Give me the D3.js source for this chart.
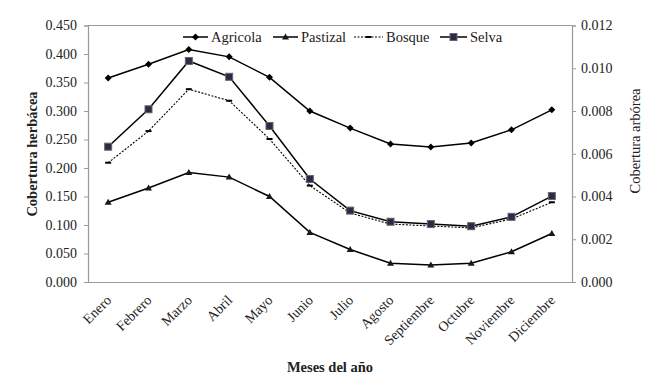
<!DOCTYPE html>
<html><head><meta charset="utf-8">
<script src="https://cdn.jsdelivr.net/npm/d3@7"></script>
<style>
body{margin:0;background:#fff;}
</style></head><body>
<svg id="c" width="658" height="382"></svg>
<script>
const months = ["Enero","Febrero","Marzo","Abril","Mayo","Junio","Julio","Agosto","Septiembre","Octubre","Noviembre","Diciembre"];
const agricola = [0.358,0.382,0.408,0.395,0.359,0.300,0.270,0.242,0.237,0.244,0.267,0.302];
const pastizal = [0.140,0.165,0.192,0.184,0.150,0.087,0.057,0.033,0.030,0.033,0.053,0.085];
const bosque = [0.00558,0.00706,0.00902,0.00848,0.00669,0.00451,0.00323,0.00271,0.00262,0.00253,0.00295,0.00373];
const selva = [0.00633,0.00808,0.01034,0.00960,0.00730,0.00482,0.00334,0.00282,0.00271,0.00261,0.00305,0.00402];
const leftTicks = [0,0.05,0.1,0.15,0.2,0.25,0.3,0.35,0.4,0.45];
const rightTicks = [0,0.002,0.004,0.006,0.008,0.010,0.012];

const FONT = "'Liberation Serif', 'Times New Roman', serif";
const svg = d3.select("#c");
const L=88, R=572, T=25.5, B=282;
const x = d3.scaleBand().domain(months).range([L,R]);
const yL = d3.scaleLinear().domain([0,0.45]).range([B,T]);
const yR = d3.scaleLinear().domain([0,0.012]).range([B,T]);
const cx = m => x(m)+x.bandwidth()/2;
const axisCol="#9a9a9a";

const gl = svg.append("g").attr("transform",`translate(${L},0)`)
  .call(d3.axisLeft(yL).tickValues(leftTicks).tickFormat(d3.format(".3f")).tickSize(4).tickPadding(7));
const gr = svg.append("g").attr("transform",`translate(${R},0)`)
  .call(d3.axisRight(yR).tickValues(rightTicks).tickFormat(d3.format(".3f")).tickSize(4).tickPadding(5));
const gx = svg.append("g").attr("transform",`translate(0,${B})`)
  .call(d3.axisBottom(x).tickSize(0).tickPadding(0));
[gl,gr,gx].forEach(g=>{
  g.attr("font-family",null).attr("font-size",null);
  g.select(".domain").attr("stroke",axisCol).attr("stroke-width",1.2);
  g.selectAll(".tick line").attr("stroke",axisCol);
  g.selectAll("text").style("font-family",FONT).style("font-size","14px").attr("fill","#222");
});
gx.selectAll(".tick text").attr("text-anchor","end").attr("dy",null)
  .attr("transform","translate(4,19) rotate(-45)");
svg.append("line").attr("x1",L).attr("x2",R).attr("y1",T).attr("y2",T).attr("stroke",axisCol).attr("stroke-width",1.2);

function txt(){ return svg.append("text").style("font-family",FONT).attr("fill","#222"); }
txt().attr("transform","translate(37,154) rotate(-90)").attr("text-anchor","middle")
  .style("font-size","14.5px").style("font-weight","bold").text("Cobertura herbácea");
txt().attr("transform","translate(640,141) rotate(-90)").attr("text-anchor","middle")
  .style("font-size","14.5px").text("Cobertura arbórea");
txt().attr("x",330).attr("y",372).attr("text-anchor","middle")
  .style("font-size","14.5px").style("font-weight","bold").text("Meses del año");

function drawSeries(vals, y, opts){
  const line = d3.line().x((d,i)=>cx(months[i])).y(d=>y(d));
  svg.append("path").datum(vals).attr("d",line).attr("fill","none")
    .attr("stroke","#000").attr("stroke-width",opts.w||1.5).attr("stroke-dasharray",opts.dash||null);
  const g = svg.append("g");
  vals.forEach((v,i)=>opts.marker(g, cx(months[i]), y(v)));
}
const diamond=(g,px,py)=>g.append("path").attr("d",`M${px},${py-3.5}L${px+3.5},${py}L${px},${py+3.5}L${px-3.5},${py}Z`).attr("fill","#000");
const tri=(g,px,py)=>g.append("path").attr("d",`M${px},${py-3.5}L${px+3.5},${py+2.5}L${px-3.5},${py+2.5}Z`).attr("fill","#1a1a0a");
const dash=(g,px,py)=>g.append("rect").attr("x",px-3).attr("y",py-1).attr("width",6).attr("height",2).attr("fill","#000");
const square=(g,px,py)=>g.append("rect").attr("x",px-3.5).attr("y",py-3.5).attr("width",7).attr("height",7).attr("fill","#2a2a4a").attr("stroke","#666").attr("stroke-width",1);

drawSeries(bosque, yR, {marker:dash, dash:"2,1.5", w:1.1});
drawSeries(selva, yR, {marker:square});
drawSeries(pastizal, yL, {marker:tri});
drawSeries(agricola, yL, {marker:diamond});

const legend = [
  {name:"Agricola", x1:183, x2:208, tx:211, marker:diamond},
  {name:"Pastizal", x1:273, x2:298, tx:301, marker:tri},
  {name:"Bosque", x1:354, x2:383, tx:386, marker:dash, dash:"2,1.5", w:1.1},
  {name:"Selva", x1:440, x2:467, tx:470, marker:square}
];
const ly=37;
legend.forEach(d=>{
  svg.append("line").attr("x1",d.x1).attr("x2",d.x2).attr("y1",ly).attr("y2",ly)
    .attr("stroke","#000").attr("stroke-width",d.w||1.5).attr("stroke-dasharray",d.dash||null);
  d.marker(svg,(d.x1+d.x2)/2,ly);
  txt().attr("x",d.tx).attr("y",ly+5).style("font-size","14.5px").text(d.name);
});
</script></body></html>
